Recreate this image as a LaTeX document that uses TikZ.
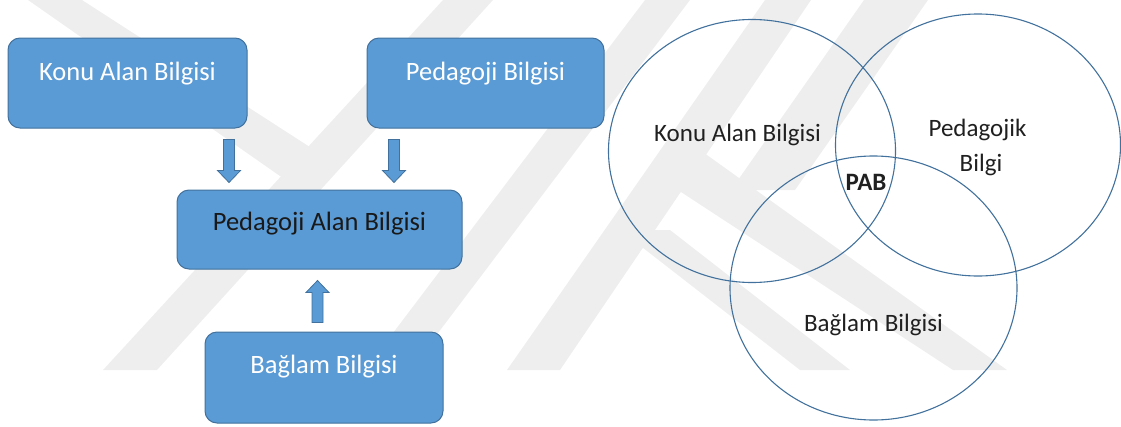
\documentclass[tikz,border=0pt]{standalone}
\usepackage{fontspec}
\setmainfont{Carlito}
\usetikzlibrary{calc}
\definecolor{boxblue}{HTML}{5B9BD5}
\definecolor{boxline}{HTML}{41719C}
\definecolor{ringline}{HTML}{41719C}
\definecolor{wmgray}{HTML}{EEEEEE}
\definecolor{venntext}{HTML}{202020}
\tikzset{
  box/.style={draw=boxline, line width=1pt, fill=boxblue, rounded corners=12pt,
    inner sep=0pt, text height=20pt, font=\fontsize{26.5}{31}\selectfont},
  lighttext/.style={text=white},
  darktext/.style={text=black!90},
  % vertical block arrow; the tip sits at the target
  blockdown/.style={draw=boxline, line width=0.8pt, fill=boxblue, line join=miter,
    to path={($(\tikztostart)+(-5.5,0)$) -- ($(\tikztostart)+(5.5,0)$)
      -- ($(\tikztotarget)+(5.5,-12)$) -- ($(\tikztotarget)+(11.5,-12)$)
      -- (\tikztotarget) -- ($(\tikztotarget)+(-11.5,-12)$)
      -- ($(\tikztotarget)+(-5.5,-12)$) -- cycle}},
  blockup/.style={draw=boxline, line width=0.8pt, fill=boxblue, line join=miter,
    to path={($(\tikztostart)+(-5.5,0)$) -- ($(\tikztostart)+(5.5,0)$)
      -- ($(\tikztotarget)+(5.5,12)$) -- ($(\tikztotarget)+(11.5,12)$)
      -- (\tikztotarget) -- ($(\tikztotarget)+(-11.5,12)$)
      -- ($(\tikztotarget)+(-5.5,12)$) -- cycle}},
  ring/.style={draw=ringline, line width=1.1pt},
  venn/.style={inner sep=0pt, anchor=base, text=venntext, font=\fontsize{25}{30}\selectfont},
  band/.style={fill=wmgray, draw=none}
}
\begin{document}
\begin{tikzpicture}[x=1pt, y=-1pt]
\useasboundingbox (0,0) rectangle (1121,426);

% faint background emblem
\fill[band] (28,0) -- (82,0) -- (330,160) -- (300,190) -- cycle;
\fill[band] (103,370) -- (157,370) -- (493,0) -- (443,0) -- cycle;
\fill[band] (365,370) -- (410,370) -- (690,0) -- (645,0) -- cycle;
\fill[band] (507,370) -- (560,370) -- (811,0) -- (765,0) -- cycle;
\fill[band] (700,150) -- (1007,370) -- (953,370) -- (655,175) -- cycle;
\fill[band] (670,230) -- (850,370) -- (800,370) -- (620,230) -- cycle;
\fill[band] (864,0) -- (928,0) -- (795,190) -- (731,190) -- cycle;

% left: flow of the three knowledge types
\node[box, lighttext, minimum width=239pt, minimum height=90pt, text depth=26pt]
  (kab) at (127.5,83) {Konu Alan Bilgisi};
\node[box, lighttext, minimum width=237pt, minimum height=90pt, text depth=26pt]
  (pb) at (485.5,83) {Pedagoji Bilgisi};
\node[box, darktext, minimum width=285pt, minimum height=79pt, text depth=19pt]
  (pab) at (319.5,229.5) {Pedagoji Alan Bilgisi};
\node[box, lighttext, minimum width=238pt, minimum height=91pt, text depth=29pt]
  (bb) at (324,377.5) {Bağlam Bilgisi};

\coordinate (a1s) at ($(kab.south)+(101.5,11)$);
\coordinate (a1t) at ($(pab.north)+(-90.5,-7)$);
\coordinate (a2s) at ($(pb.south)+(-91.5,11)$);
\coordinate (a2t) at ($(pab.north)+(74.5,-7)$);
\coordinate (a3s) at ($(bb.north)+(-6.5,-9)$);
\coordinate (a3t) at ($(pab.south)+(-2,11)$);
\path[blockdown] (a1s) to (a1t);
\path[blockdown] (a2s) to (a2t);
\path[blockup] (a3s) to (a3t);

% right: overlapping fields
\draw[ring] (752,151) ellipse [x radius=143.5, y radius=131.5];
\draw[ring] (978,145) ellipse [x radius=142.5, y radius=131];
\draw[ring] (873.5,288) ellipse [x radius=143.5, y radius=132];

\node[venn] (vk) at (737.5,141.5) {Konu Alan Bilgisi};
\node[venn] (vp1) at (977.5,136.5) {Pedagojik};
\node[venn] (vp2) at (981,171.5) {Bilgi};
\node[venn, font=\fontsize{25}{30}\selectfont\bfseries] (vpab) at (866,190) {PAB};
\node[venn] (vb) at (873.5,331.5) {Bağlam Bilgisi};
\end{tikzpicture}
\end{document}
